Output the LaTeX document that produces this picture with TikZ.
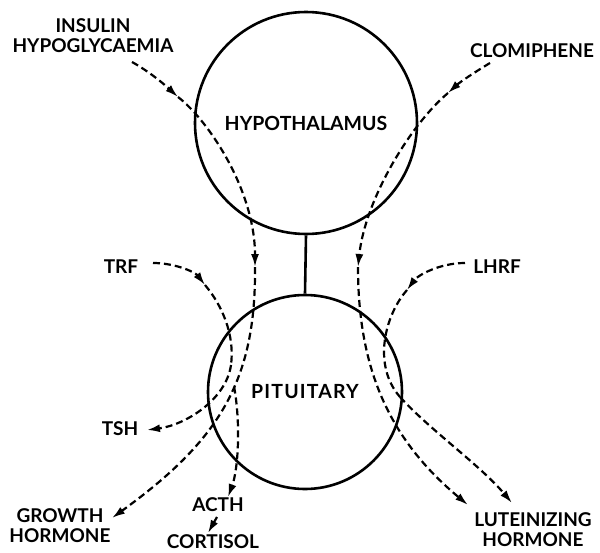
\documentclass[tikz,border=0pt]{standalone}
\usepackage{fontspec}
\setmainfont{Lato}
\usetikzlibrary{arrows.meta}
\begin{document}
\begin{tikzpicture}[x=1pt,y=-1pt,
  lbl/.style={font=\fontsize{19}{20}\selectfont\bfseries, inner sep=0pt, align=center},
  organ/.style={draw, circle, line width=2.6pt, inner sep=0pt, font=\fontsize{19.5}{20}\selectfont\bfseries},
  flowline/.style={line width=2.2pt, dash pattern=on 7pt off 4pt},
  flow/.style={flowline, -{Latex[length=13pt,width=8pt]}},
  link/.style={line width=2.6pt}]
\useasboundingbox (0,0) rectangle (600,552);

% organs
\node[organ, minimum size=222pt] (hyp) at (306,123) {HYPOTHALAMUS};
\node[organ, minimum size=194pt] (pit) at (305,392) {\addfontfeature{LetterSpace=6}PITUITARY};
\draw[link] (hyp.south) -- (pit.north);

% labels
\node[lbl] (ins) at (93,36) {INSULIN\\HYPOGLYCAEMIA};
\node[lbl] (clo) at (532,51) {CLOMIPHENE};
\node[lbl] (trf) at (121,267) {TRF};
\node[lbl] (lhrf) at (497,267) {LHRF};
\node[lbl] (tsh) at (120,429) {TSH};
\node[lbl] (gh) at (60,526) {GROWTH\\HORMONE};
\node[lbl] (acth) at (218,505) {ACTH};
\node[lbl] (cort) at (213,542) {CORTISOL};
\node[lbl] (lh) at (533,530) {LUTEINIZING\\HORMONE};

% connector points
\coordinate (insS) at (132,62);
\coordinate (insA) at (178,97);
\coordinate (insB) at (255,267);
\coordinate (ghT) at (112,518);
\coordinate (acthT) at (228,497);
\coordinate (trfS) at (153,263);
\coordinate (trfA) at (205,285);
\coordinate (trfM) at (231,365);
\coordinate (tshT) at (147,430);
\coordinate (cloS) at (490,63);
\coordinate (cloA) at (448,93);
\coordinate (cloB) at (358,267);
\coordinate (lhA) at (468,505);
\coordinate (lhrfS) at (465,263);
\coordinate (lhrfA) at (407,290);
\coordinate (lhrfM) at (400,397);
\coordinate (lhB) at (512,503);
\coordinate (acthS) at (217,517);
\coordinate (cortT) at (208,533);

% insulin hypoglycaemia
\draw[flow] (insS) .. controls (150,72) and (165,85) .. (insA);
\draw[flow] (insA) .. controls (208,120) and (255,190) .. (insB);
\draw[flow] (insB) .. controls (256,380) and (220,440) .. coordinate[pos=0.42] (br) (ghT);
\draw[flow] (br) .. controls (241,425) and (238,470) .. (acthT);

% TRF -> TSH
\draw[flow] (trfS) .. controls (175,263) and (195,272) .. (trfA);
\draw[flowline] (trfA) .. controls (222,305) and (235,335) .. (trfM);
\draw[flow] (trfM) .. controls (226,400) and (185,425) .. (tshT);

% clomiphene
\draw[flow] (cloS) .. controls (475,72) and (460,82) .. (cloA);
\draw[flow] (cloA) .. controls (410,125) and (365,200) .. (cloB);
\draw[flow] (cloB) .. controls (358,370) and (390,440) .. (lhA);

% LHRF -> LH
\draw[flow] (lhrfS) .. controls (440,263) and (418,275) .. (lhrfA);
\draw[flowline] (lhrfA) .. controls (385,315) and (372,365) .. (lhrfM);
\draw[flow] (lhrfM) .. controls (430,430) and (480,465) .. (lhB);

% ACTH -> cortisol
\draw[flow] (acthS) -- (cortT);
\end{tikzpicture}
\end{document}
